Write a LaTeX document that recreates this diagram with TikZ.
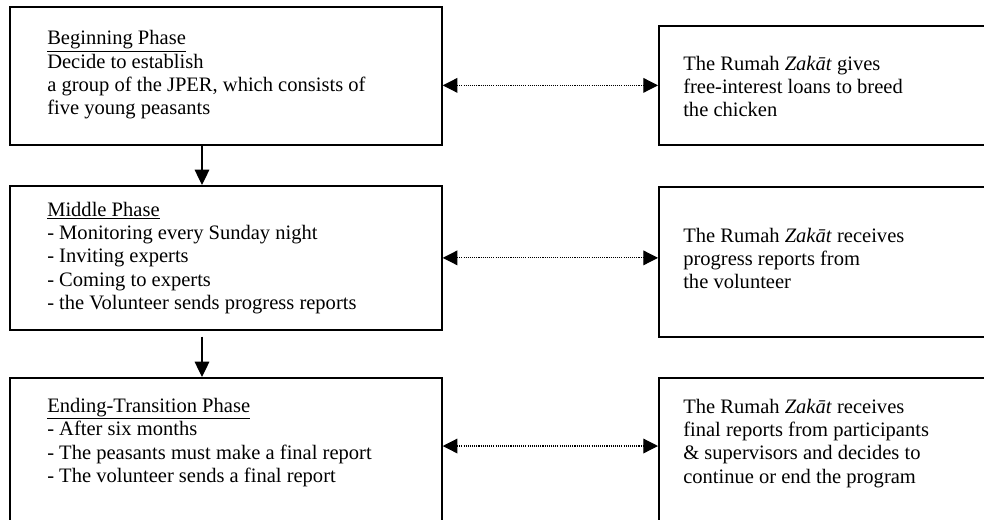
\documentclass[tikz,border=0pt]{standalone}
\usepackage{fontspec}
\setmainfont{Liberation Serif}
\usetikzlibrary{arrows.meta}

\newcommand{\boxtext}[1]{\begin{tabular}[t]{@{}l@{}}#1\end{tabular}}

\tikzset{
  phase/.style={draw=black,line width=1.3pt,rectangle,anchor=north west,inner sep=0pt},
  txt/.style={anchor=base west,inner sep=0pt,font=\fontsize{15.4pt}{17.6pt}\selectfont},
  flow/.style={-{Triangle[length=11.5pt,width=11pt]},line width=0.9pt},
  link/.style={{Triangle[length=11pt,width=11pt]}-{Triangle[length=11pt,width=11pt]},
    line width=0.9pt,dash pattern=on 0.8pt off 0.8pt}
}

\begin{document}
\begin{tikzpicture}[x=0.75pt,y=-0.75pt]
  \useasboundingbox (0,0) rectangle (984,519);

  % phases
  \node[phase,minimum width=324pt,minimum height=103.5pt] (begin) at (9,6) {};
  \node[phase,minimum width=324pt,minimum height=108pt] (middle) at (9,185) {};
  \node[phase,minimum width=324pt,minimum height=150pt] (ending) at (9,377) {};

  % Rumah Zakat
  \node[phase,minimum width=264pt,minimum height=89.25pt] (gives) at (658,25) {};
  \node[phase,minimum width=264pt,minimum height=112.5pt] (progress) at (658,186) {};
  \node[phase,minimum width=264pt,minimum height=150pt] (final) at (658,377) {};

  % texts
  \node[txt] (begintext) at (47,44.5) {\boxtext{\underline{Beginning Phase}\\
    Decide to establish\\
    a group of the JPER, which consists of\\
    five young peasants}};
  \node[txt] (middletext) at (47,216) {\boxtext{\underline{Middle Phase}\\
    - Monitoring every Sunday night\\
    - Inviting experts\\
    - Coming to experts\\
    - the Volunteer sends progress reports}};
  \node[txt] (endingtext) at (47,412) {\boxtext{\underline{Ending-Transition Phase}\\
    - After six months\\
    - The peasants must make a final report\\
    - The volunteer sends a final report}};
  \node[txt] (givestext) at (683,70) {\boxtext{The Rumah \textit{Zakāt} gives\\
    free-interest loans to breed\\
    the chicken}};
  \node[txt] (progresstext) at (683,242) {\boxtext{The Rumah \textit{Zakāt} receives\\
    progress reports from\\
    the volunteer}};
  \node[txt] (finaltext) at (683,413) {\boxtext{The Rumah \textit{Zakāt} receives\\
    final reports from participants\\
    \& supervisors and decides to\\
    continue or end the program}};

  % arrows
  \draw[flow] ([xshift=144.75pt]begin.south west) -- ([xshift=144.75pt]middle.north west);
  \draw[flow,shorten <=4.5pt] ([xshift=144.75pt]middle.south west) -- ([xshift=144.75pt]ending.north west);

  \draw[link] (gives.west -| begin.east) -- (gives.west);
  \draw[link] (middle.east) -- (middle.east -| progress.west);
  \draw[link] ([yshift=-51.75pt]ending.north east) -- ([yshift=-51.75pt]final.north west);
\end{tikzpicture}
\end{document}
